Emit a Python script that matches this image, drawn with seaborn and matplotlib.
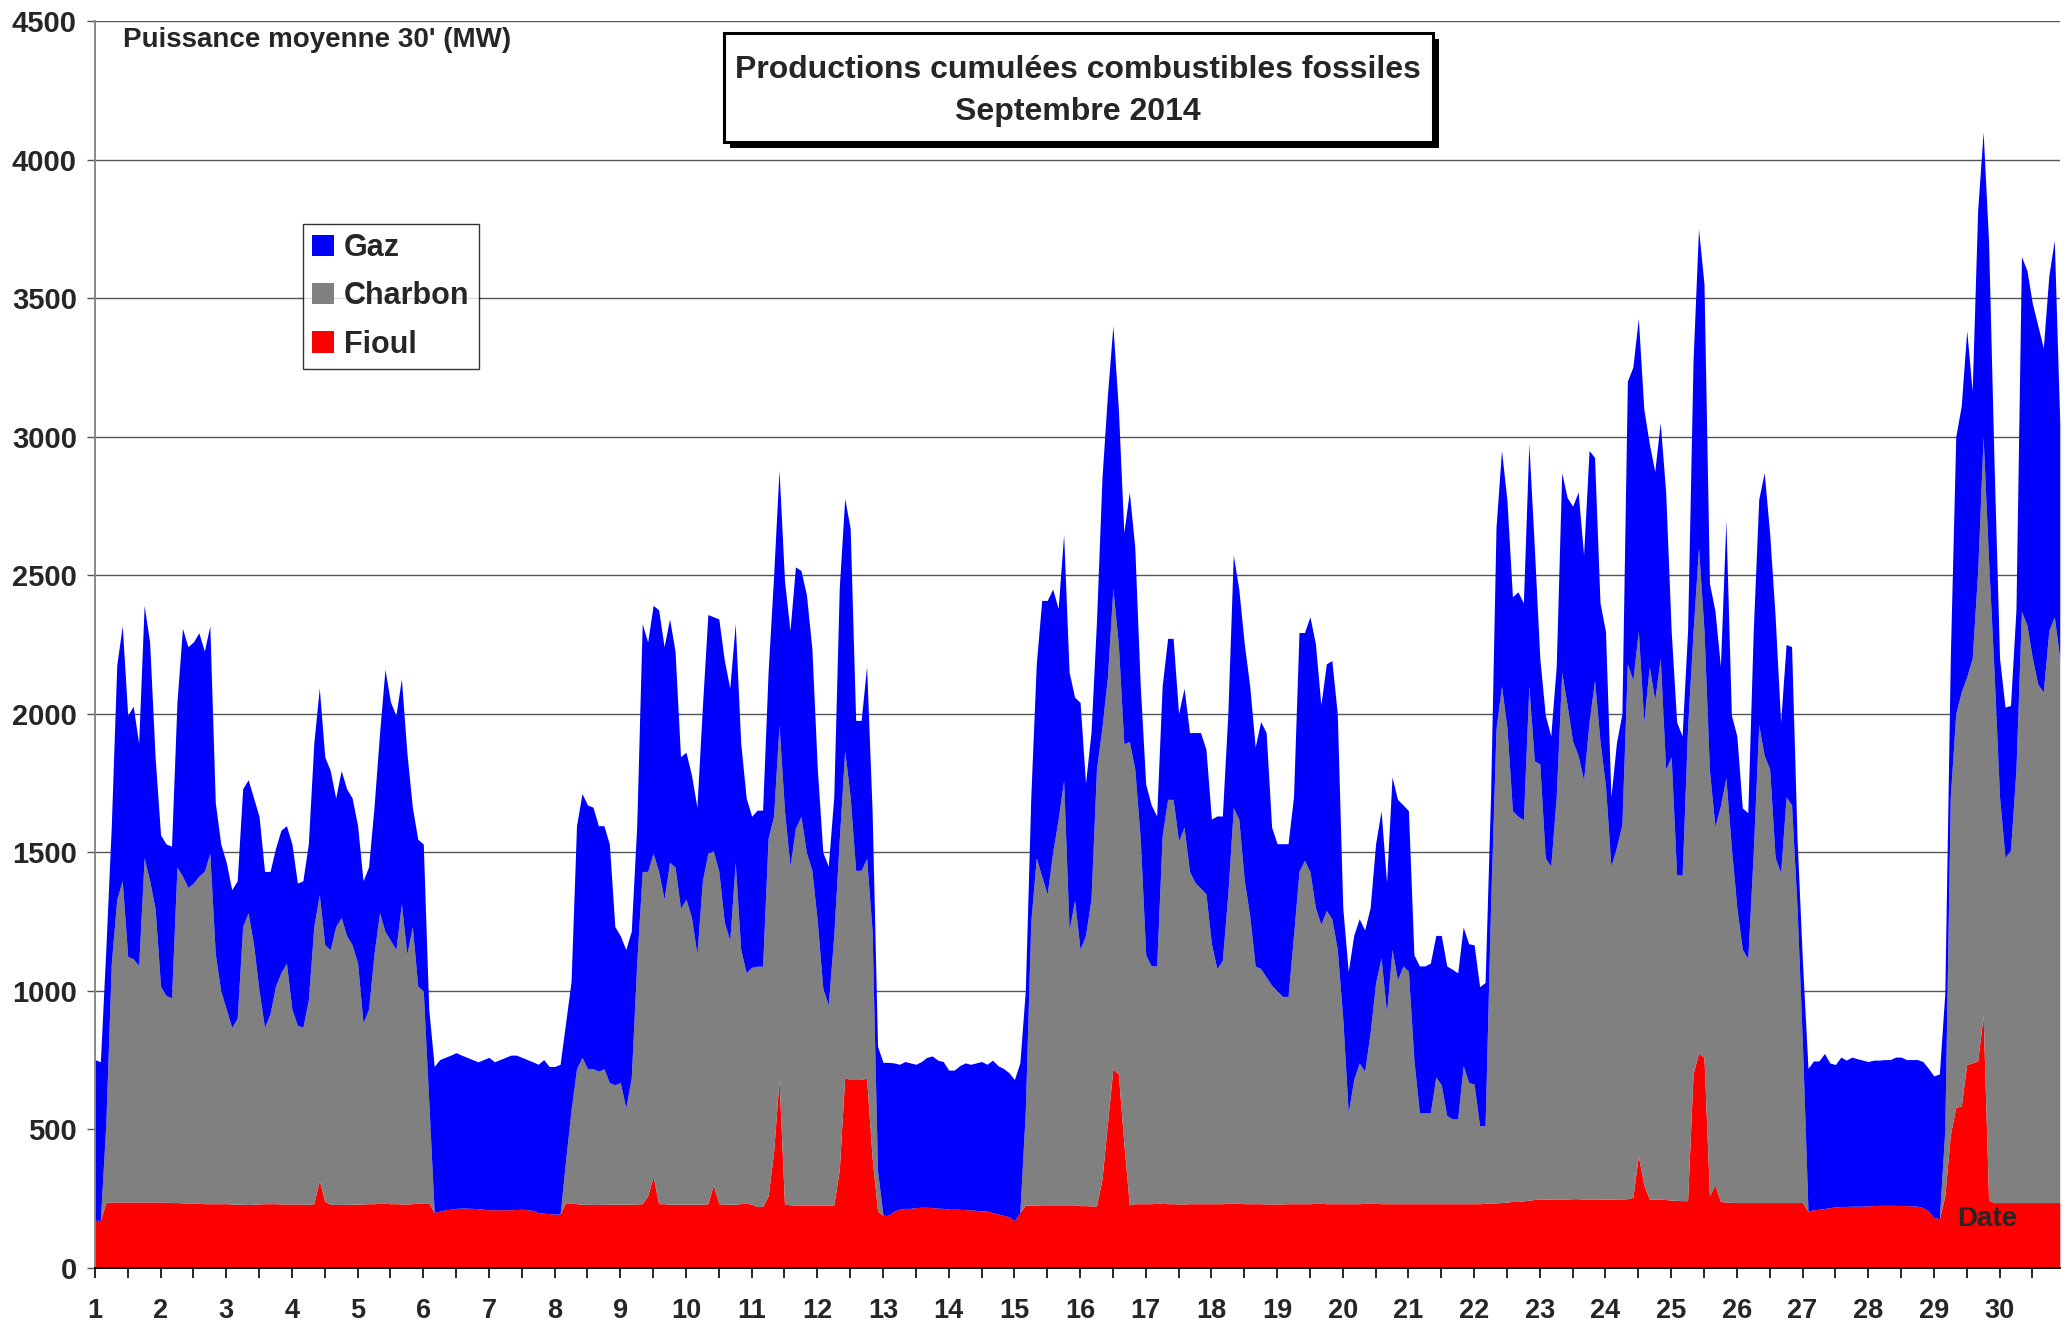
import numpy as np
import pandas as pd
import seaborn as sns
import matplotlib.pyplot as plt
from matplotlib.patches import Patch, Rectangle

# niveaux cumules (MW), un point toutes les 2 h, 12 par jour
fioul = [
    [172, 172, 235, 238, 238, 238, 238, 238, 238, 238, 238, 238],
    [238, 238, 236, 236, 235, 235, 234, 233, 232, 232, 232, 232],
    [232, 231, 230, 230, 229, 230, 231, 232, 232, 232, 231, 231],
    [231, 231, 230, 230, 232, 316, 240, 230, 229, 229, 230, 230],
    [230, 231, 232, 232, 233, 233, 232, 232, 231, 231, 232, 234],
    [235, 235, 200, 205, 210, 212, 215, 216, 216, 215, 214, 212],
    [210, 210, 210, 210, 210, 211, 212, 210, 208, 200, 198, 196],
    [194, 195, 235, 235, 232, 230, 230, 229, 229, 230, 230, 230],
    [230, 230, 230, 231, 232, 260, 330, 232, 232, 230, 230, 230],
    [230, 230, 230, 230, 232, 300, 232, 230, 230, 230, 232, 234],
    [230, 222, 222, 260, 418, 680, 230, 228, 227, 227, 227, 227],
    [227, 227, 227, 227, 353, 688, 680, 680, 680, 685, 400, 205],
    [190, 190, 205, 212, 215, 215, 218, 219, 219, 218, 216, 215],
    [212, 212, 212, 210, 210, 208, 206, 206, 200, 195, 190, 185],
    [170, 200, 227, 227, 227, 228, 228, 228, 228, 228, 228, 228],
    [225, 225, 224, 224, 320, 520, 719, 700, 450, 228, 232, 232],
    [232, 232, 233, 233, 232, 232, 231, 231, 232, 232, 232, 232],
    [232, 232, 232, 233, 234, 233, 232, 232, 232, 232, 231, 231],
    [231, 231, 232, 232, 232, 232, 232, 233, 233, 232, 232, 232],
    [232, 232, 232, 232, 233, 233, 233, 232, 232, 232, 232, 232],
    [232, 232, 232, 232, 232, 232, 232, 232, 232, 232, 232, 232],
    [232, 232, 233, 234, 235, 236, 238, 240, 240, 242, 245, 247],
    [248, 248, 248, 249, 249, 249, 250, 250, 249, 249, 249, 248],
    [248, 248, 249, 249, 250, 255, 405, 300, 249, 248, 248, 247],
    [245, 244, 243, 243, 700, 776, 760, 260, 300, 240, 238, 237],
    [236, 236, 236, 236, 236, 236, 236, 236, 236, 236, 236, 236],
    [236, 205, 210, 212, 214, 218, 220, 222, 222, 223, 223, 223],
    [224, 225, 226, 226, 226, 226, 225, 225, 224, 223, 218, 205],
    [182, 178, 260, 480, 580, 584, 734, 740, 747, 910, 245, 236],
    [236, 236, 236, 236, 236, 236, 236, 236, 236, 236, 236, 236],
]

fioul_charbon = [
    [172, 172, 520, 1100, 1331, 1398, 1124, 1116, 1091, 1480, 1398, 1298],
    [1017, 983, 975, 1447, 1414, 1373, 1389, 1414, 1431, 1497, 1133, 1000],
    [934, 868, 901, 1232, 1282, 1166, 1000, 868, 917, 1017, 1066, 1100],
    [934, 876, 868, 967, 1232, 1348, 1166, 1149, 1232, 1265, 1199, 1166],
    [1100, 884, 934, 1133, 1282, 1215, 1182, 1149, 1315, 1133, 1232, 1017],
    [1000, 603, 200, 205, 210, 212, 215, 216, 216, 215, 214, 212],
    [210, 210, 210, 210, 210, 211, 212, 210, 208, 200, 198, 196],
    [194, 195, 387, 570, 719, 760, 719, 719, 710, 719, 669, 661],
    [669, 578, 686, 1100, 1431, 1431, 1497, 1431, 1331, 1464, 1447, 1298],
    [1331, 1265, 1133, 1398, 1497, 1505, 1431, 1248, 1182, 1464, 1149, 1066],
    [1085, 1089, 1089, 1550, 1630, 1960, 1650, 1450, 1587, 1630, 1500, 1435],
    [1250, 1010, 950, 1200, 1543, 1868, 1700, 1435, 1435, 1478, 1219, 350],
    [190, 190, 205, 212, 215, 215, 218, 219, 219, 218, 216, 215],
    [212, 212, 212, 210, 210, 208, 206, 206, 200, 195, 190, 185],
    [170, 200, 569, 1250, 1480, 1413, 1349, 1500, 1620, 1760, 1219, 1327],
    [1150, 1200, 1331, 1800, 1950, 2132, 2453, 2250, 1892, 1900, 1800, 1550],
    [1130, 1090, 1090, 1560, 1691, 1691, 1540, 1591, 1431, 1391, 1371, 1350],
    [1170, 1080, 1110, 1350, 1661, 1620, 1400, 1270, 1090, 1080, 1050, 1020],
    [1000, 980, 980, 1200, 1431, 1471, 1430, 1300, 1240, 1290, 1260, 1150],
    [900, 560, 680, 740, 710, 850, 1030, 1120, 920, 1150, 1040, 1090],
    [1070, 750, 560, 560, 560, 690, 660, 550, 538, 538, 730, 670],
    [663, 513, 513, 1300, 1945, 2100, 1950, 1650, 1630, 1618, 2100, 1830],
    [1819, 1480, 1450, 1700, 2150, 2030, 1900, 1850, 1760, 1970, 2121, 1900],
    [1740, 1450, 1518, 1600, 2180, 2121, 2300, 1970, 2171, 2050, 2200, 1800],
    [1844, 1420, 1417, 1950, 2297, 2600, 2300, 1794, 1593, 1668, 1769, 1518],
    [1300, 1150, 1116, 1500, 1960, 1850, 1800, 1481, 1426, 1700, 1671, 1300],
    [800, 205, 210, 212, 214, 218, 220, 222, 222, 223, 223, 223],
    [224, 225, 226, 226, 226, 226, 225, 225, 224, 223, 218, 205],
    [182, 178, 500, 1700, 2000, 2079, 2133, 2200, 2513, 3000, 2550, 2150],
    [1700, 1481, 1508, 1800, 2370, 2320, 2200, 2106, 2079, 2300, 2350, 2200],
]

total = [
    [752, 744, 1150, 1596, 2176, 2317, 1994, 2027, 1894, 2391, 2259, 1845],
    [1563, 1530, 1522, 2043, 2308, 2242, 2259, 2292, 2226, 2317, 1679, 1530],
    [1464, 1365, 1397, 1729, 1762, 1696, 1629, 1431, 1431, 1514, 1580, 1596],
    [1530, 1389, 1397, 1530, 1894, 2093, 1845, 1795, 1696, 1795, 1729, 1696],
    [1596, 1397, 1447, 1663, 1927, 2160, 2043, 1994, 2126, 1861, 1663, 1547],
    [1530, 934, 727, 752, 760, 768, 777, 768, 760, 752, 744, 752],
    [760, 744, 752, 760, 768, 768, 760, 752, 744, 735, 752, 727],
    [727, 735, 884, 1033, 1596, 1712, 1671, 1663, 1596, 1596, 1530, 1232],
    [1199, 1149, 1215, 1596, 2325, 2259, 2391, 2375, 2242, 2342, 2226, 1845],
    [1861, 1779, 1663, 2027, 2358, 2350, 2342, 2193, 2093, 2325, 1894, 1696],
    [1630, 1652, 1652, 2150, 2494, 2880, 2480, 2300, 2530, 2517, 2430, 2236],
    [1800, 1500, 1450, 1700, 2452, 2777, 2669, 1976, 1976, 2171, 1652, 800],
    [742, 742, 740, 735, 745, 740, 735, 745, 760, 765, 750, 745],
    [714, 714, 730, 740, 735, 740, 745, 735, 750, 730, 720, 705],
    [680, 740, 1002, 1700, 2180, 2409, 2409, 2450, 2380, 2647, 2150, 2060],
    [2041, 1750, 1932, 2333, 2850, 3150, 3400, 3100, 2653, 2800, 2600, 2100],
    [1745, 1671, 1631, 2100, 2272, 2272, 2000, 2092, 1932, 1932, 1932, 1872],
    [1620, 1631, 1631, 2000, 2573, 2450, 2253, 2100, 1880, 1972, 1932, 1591],
    [1531, 1531, 1531, 1700, 2293, 2293, 2350, 2253, 2032, 2180, 2192, 2000],
    [1300, 1070, 1200, 1260, 1220, 1300, 1531, 1650, 1391, 1772, 1691, 1671],
    [1650, 1130, 1090, 1090, 1100, 1200, 1200, 1090, 1078, 1065, 1230, 1170],
    [1166, 1015, 1030, 1700, 2673, 2950, 2770, 2422, 2440, 2400, 2975, 2600],
    [2200, 1995, 1920, 2171, 2870, 2780, 2749, 2800, 2573, 2950, 2925, 2400],
    [2297, 1700, 1895, 2000, 3200, 3251, 3427, 3100, 2975, 2874, 3050, 2800],
    [2300, 1970, 1920, 2300, 3276, 3750, 3550, 2470, 2372, 2171, 2698, 1995],
    [1920, 1660, 1643, 2300, 2774, 2870, 2650, 2350, 1970, 2250, 2242, 1550],
    [1100, 720, 747, 747, 774, 740, 734, 761, 750, 761, 755, 750],
    [745, 750, 750, 752, 752, 761, 761, 752, 752, 752, 745, 720],
    [693, 700, 992, 2200, 3000, 3111, 3383, 3165, 3817, 4100, 3700, 2900],
    [2200, 2024, 2030, 2377, 3650, 3600, 3480, 3400, 3320, 3580, 3709, 3050],
]

series = ["Gaz", "Charbon", "Fioul"]
couleurs = {"Gaz": "#0000ff", "Charbon": "#808080", "Fioul": "#ff0000"}
jours = list(range(1, 31))
y_ticks = list(range(0, 4501, 500))

heures = pd.date_range("2014-09-01", periods=30 * 12, freq="2h")
df = pd.DataFrame({
    "jour": heures.day + heures.hour / 24,
    "fioul": np.ravel(fioul),
    "charbon": np.ravel(fioul_charbon),
    "total": np.ravel(total),
})

sns.set_style("white")
plt.rcParams["font.family"] = ["Liberation Sans", "DejaVu Sans"]
plt.rcParams["font.weight"] = "bold"

fig = plt.figure(figsize=(20.67, 13.34), dpi=100)
ax = fig.add_axes([0.0459, 0.0495, 0.9507, 0.9348])

ax.fill_between(df["jour"], 0, df["fioul"], color=couleurs["Fioul"], lw=0, zorder=2)
ax.fill_between(df["jour"], df["fioul"], df["charbon"], color=couleurs["Charbon"], lw=0, zorder=2)
ax.fill_between(df["jour"], df["charbon"], df["total"], color=couleurs["Gaz"], lw=0, zorder=2)

ax.set_xlim(1, 30.92)
ax.set_ylim(0, 4500)
ax.set_xticks(jours)
ax.set_xticklabels([str(j) for j in jours], fontsize=19.5, fontweight="bold")
ax.set_xticks(np.arange(1.5, 31, 1), minor=True)
ax.set_yticks(y_ticks)
ax.set_yticklabels([str(v) for v in y_ticks], fontsize=21, fontweight="bold")
ax.tick_params(axis="x", which="both", direction="out", length=7.5, width=1.2,
               color="black", pad=14, bottom=True)
ax.tick_params(axis="y", direction="out", length=6, width=1.0,
               color="#555555", pad=7, left=True)

ax.set_axisbelow(True)
ax.yaxis.grid(True, color="#555555", lw=1.0)
ax.xaxis.grid(False)
sns.despine(ax=ax, top=True, right=True)
ax.spines["left"].set_color("#808080")
ax.spines["left"].set_linewidth(1.3)
ax.spines["bottom"].set_color("black")
ax.spines["bottom"].set_linewidth(1.3)
ax.spines["bottom"].set_zorder(3)

ax.text(0.0143, 0.9845, "Puissance moyenne 30' (MW)", transform=ax.transAxes,
        ha="left", va="center", fontsize=20, fontweight="bold")

# cadre du titre avec ombre portee
ax.add_patch(Rectangle((0.3231, 0.8982), 0.3608, 0.0874, transform=ax.transAxes,
                       facecolor="black", edgecolor="none", zorder=5, clip_on=False))
ax.add_patch(Rectangle((0.3201, 0.9030), 0.3608, 0.0874, transform=ax.transAxes,
                       facecolor="white", edgecolor="black", lw=2.2, zorder=6, clip_on=False))
ax.text(0.5003, 0.9610, "Productions cumulées combustibles fossiles", transform=ax.transAxes,
        ha="center", va="center", fontsize=23, fontweight="bold", zorder=7)
ax.text(0.5003, 0.9270, "Septembre 2014", transform=ax.transAxes,
        ha="center", va="center", fontsize=23, fontweight="bold", zorder=7)

handles = [Patch(facecolor=couleurs[s], edgecolor="none", label=s) for s in series]
leg = ax.legend(handles=handles, loc="upper left", bbox_to_anchor=(0.1059, 0.8372),
                frameon=True, fancybox=False, shadow=False, edgecolor="black",
                prop={"size": 22, "weight": "bold"}, handlelength=0.7, handleheight=0.7,
                handletextpad=0.35, labelspacing=0.6, borderpad=0.3, borderaxespad=0)
leg.get_frame().set_linewidth(1.0)
leg.set_zorder(6)

ax.text(29.81, 178, "Date", ha="center", va="center", fontsize=20,
        fontweight="bold", zorder=4)

fig.savefig("out.png", dpi=100)
